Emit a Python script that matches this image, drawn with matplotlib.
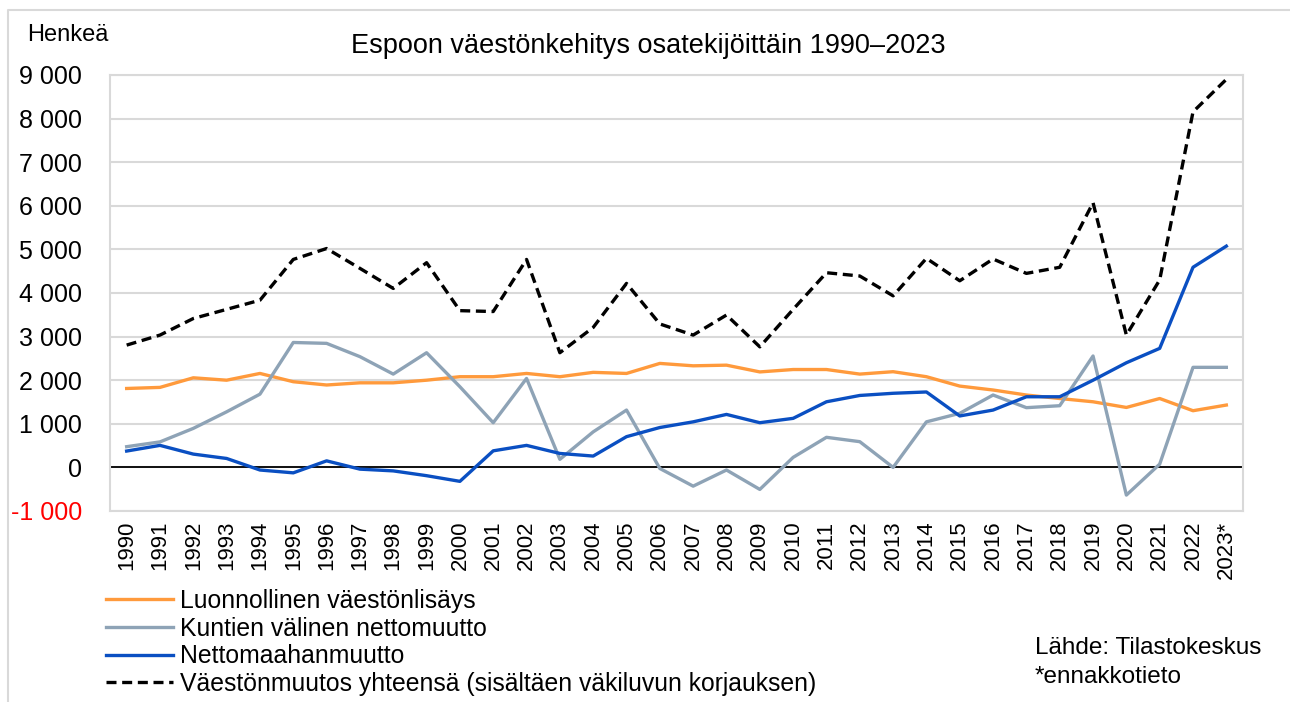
import matplotlib
matplotlib.use("Agg")
import matplotlib.pyplot as plt
from matplotlib.lines import Line2D
from matplotlib.ticker import FuncFormatter

plt.rcParams['font.family'] = ['Liberation Sans', 'DejaVu Sans']

years = [str(y) for y in range(1990, 2023)] + ['2023*']

luonnollinen = [1810, 1835, 2055, 2000, 2155, 1965, 1890, 1940, 1940, 2000, 2080,
                2080, 2155, 2080, 2180, 2155, 2385, 2330, 2345, 2190, 2245, 2245,
                2140, 2195, 2080, 1865, 1775, 1660, 1580, 1505, 1375, 1580, 1300, 1430]
kuntien_valinen = [475, 585, 895, 1275, 1680, 2865, 2845, 2540, 2140, 2630, 1850,
                   1025, 2040, 185, 815, 1315, -25, -430, -60, -505, 230, 690,
                   590, 0, 1045, 1240, 1660, 1370, 1415, 2555, -635, 75, 2295, 2295]
nettomaahanmuutto = [375, 505, 305, 205, -60, -125, 150, -40, -80, -190, -320,
                     380, 505, 320, 260, 705, 915, 1045, 1215, 1025, 1125, 1505,
                     1650, 1700, 1730, 1180, 1315, 1620, 1620, 2000, 2400, 2730, 4590, 5075]
yhteensa = [2805, 3035, 3415, 3625, 3835, 4770, 5020, 4565, 4105, 4695, 3595,
            3575, 4770, 2630, 3210, 4220, 3290, 3035, 3495, 2765, 3625, 4465,
            4390, 3935, 4795, 4280, 4780, 4450, 4590, 6070, 3035, 4300, 8155, 8900]

W, H = 1290, 702
fig = plt.figure(figsize=(W / 100, H / 100), dpi=100)
ax = fig.add_axes([110 / W, 1 - 511 / H, 1133 / W, 436 / H])

# outer chart-area frame (only top and left edges visible in the original)
fig.add_artist(Line2D([8 / W, 8 / W, 1], [0, 1 - 10 / H, 1 - 10 / H],
                      color='#D9D9D9', lw=1.5, transform=fig.transFigure))

x = list(range(len(years)))
ax.plot(x, luonnollinen, color='#FF9A3C', lw=2.4, label='Luonnollinen väestönlisäys')
ax.plot(x, kuntien_valinen, color='#8EA3B6', lw=2.4, label='Kuntien välinen nettomuutto')
ax.plot(x, nettomaahanmuutto, color='#0A4FC2', lw=2.4, label='Nettomaahanmuutto')
ax.plot(x, yhteensa, color='black', lw=2.4, dashes=(3.0, 1.7),
        label='Väestönmuutos yhteensä (sisältäen väkiluvun korjauksen)')

ax.axhline(0, color='black', lw=1.3, zorder=1)
ax.set_xlim(-0.5, len(years) - 0.5)
ax.set_ylim(-1000, 9000)
ax.set_yticks(range(-1000, 9001, 1000))
ax.yaxis.set_major_formatter(FuncFormatter(lambda v, p: f"{int(v):,}".replace(',', ' ')))
ax.grid(axis='y', color='#D9D9D9', lw=1.5, zorder=0)
ax.set_axisbelow(True)
ax.set_xticks(x)
ax.set_xticklabels(years, rotation=90, fontsize=16)
ax.tick_params(axis='y', labelsize=18, length=0, pad=20)
ax.tick_params(axis='x', length=0, pad=7)
for lab in ax.get_yticklabels():
    if lab.get_text().startswith('-'):
        lab.set_color('red')
for s in ax.spines.values():
    s.set_color('#D9D9D9')
    s.set_linewidth(1.5)

fig.text(27 / W, 1 - 35 / H, 'Henkeä', fontsize=17, va='center', ha='left')
fig.text(648 / W, 1 - 46 / H, 'Espoon väestönkehitys osatekijöittäin 1990–2023',
         fontsize=19.5, va='center', ha='center')

fig.legend(loc='upper left', bbox_to_anchor=(106 / W, 1 - 589 / H), frameon=False,
           fontsize=17.8, handlelength=2.7, handletextpad=0.3, labelspacing=0.15,
           borderaxespad=0, borderpad=0)

fig.text(1035 / W, 1 - 648 / H, 'Lähde: Tilastokeskus', fontsize=17.5, va='center')
fig.text(1035 / W, 1 - 677 / H, '*ennakkotieto', fontsize=17.5, va='center')

fig.savefig('out.png', dpi=100)
